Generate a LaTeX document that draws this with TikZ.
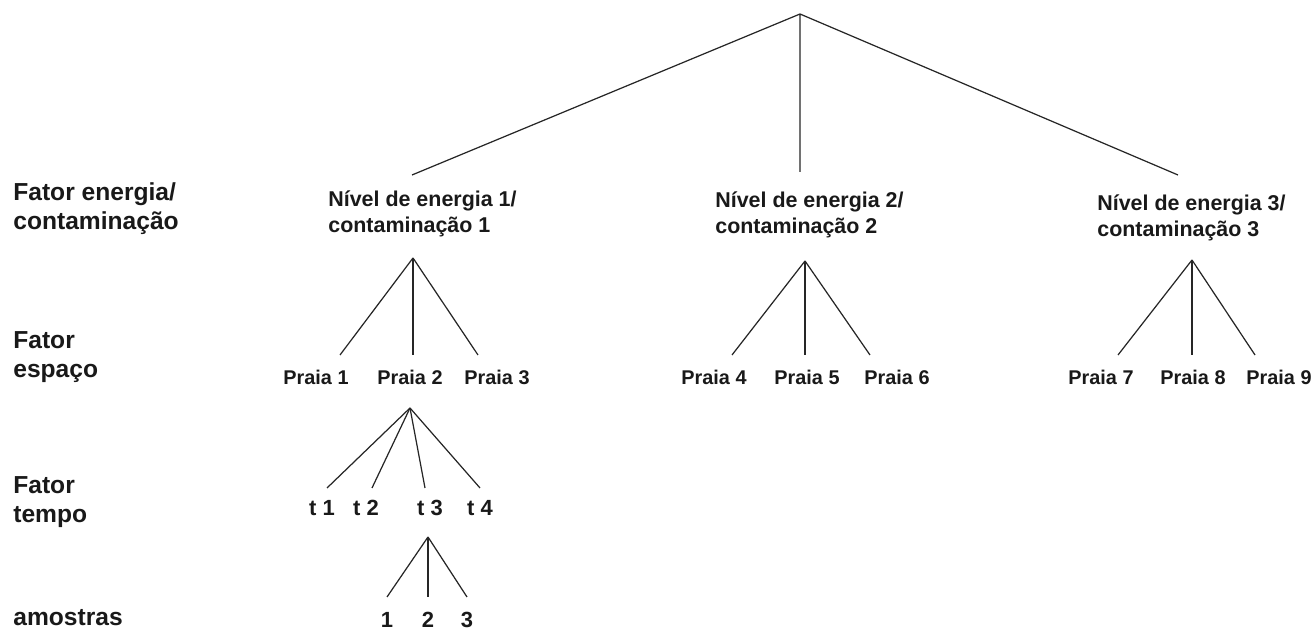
\documentclass[tikz,border=0pt]{standalone}
\usepackage{fontspec}
\setmainfont{Liberation Sans}

\begin{document}
\begin{tikzpicture}[x=0.02cm,y=-0.02cm,
        fator/.style={anchor=west,align=left,inner sep=0pt,text=black!90,
            font=\fontsize{14}{16.5}\selectfont\bfseries},
        nivel/.style={anchor=west,align=left,inner sep=0pt,text=black!90,
            font=\fontsize{12.2}{14.6}\selectfont\bfseries},
        folha/.style={inner sep=0pt,text=black!90,
            font=\fontsize{11.3}{13}\selectfont\bfseries},
        ramo/.style={black!85,line width=0.7pt}]
    \useasboundingbox (0,0) rectangle (1313,634);

    % fatores
    \node[fator] (fatE) at (13,209) {Fator energia/\\contamina\c{c}\~ao};
    \node[fator] (fatS) at (13,357) {Fator\\espa\c{c}o};
    \node[fator] (fatT) at (13,502) {Fator\\tempo};
    \node[fator] (fatA) at (13,618) {amostras};

    % niveis
    \node[nivel] (nivA) at (328,214) {N\'{\i}vel de energia 1/\\contamina\c{c}\~ao 1};
    \node[nivel] (nivB) at (715,215) {N\'{\i}vel de energia 2/\\contamina\c{c}\~ao 2};
    \node[nivel] (nivC) at (1097,218) {N\'{\i}vel de energia 3/\\contamina\c{c}\~ao 3};

    \coordinate (raiz) at (800,14);
    \coordinate (topA) at (412,175);
    \coordinate (topB) at (800,172);
    \coordinate (topC) at (1178,175);
    \draw[ramo] (raiz) -- (topA) (raiz) -- (topB) (raiz) -- (topC);

    % praias
    \foreach \n/\x in {1/316,2/410,3/497,4/714,5/807,6/897,7/1101,8/1193,9/1279}{
        \node[folha] (p\n) at (\x,377) {Praia \n};
    }
    \coordinate (ptA) at (413,258);
    \coordinate (ptB) at (805,261);
    \coordinate (ptC) at (1192,260);
    \foreach \n/\x in {1/340,2/413,3/478,4/732,5/805,6/870,7/1118,8/1192,9/1255}{
        \coordinate (e\n) at (\x,355);
    }
    \foreach \n in {1,2,3} \draw[ramo] (ptA) -- (e\n);
    \foreach \n in {4,5,6} \draw[ramo] (ptB) -- (e\n);
    \foreach \n in {7,8,9} \draw[ramo] (ptC) -- (e\n);

    % tempos
    \coordinate (pt2) at (410,408);
    \foreach \n/\x/\xe in {1/322/327,2/366/372,3/430/425,4/480/480}{
        \node[folha,font=\fontsize{12.5}{14}\selectfont\bfseries] (t\n) at (\x,508) {t \n};
        \coordinate (et\n) at (\xe,488);
        \draw[ramo] (pt2) -- (et\n);
    }

    % amostras
    \coordinate (pt3) at (428,537);
    \foreach \n/\x in {1/387,2/428,3/467}{
        \node[folha,font=\fontsize{12.5}{14}\selectfont\bfseries] (a\n) at (\x,620) {\n};
        \coordinate (ea\n) at (\x,597);
        \draw[ramo] (pt3) -- (ea\n);
    }
\end{tikzpicture}
\end{document}
